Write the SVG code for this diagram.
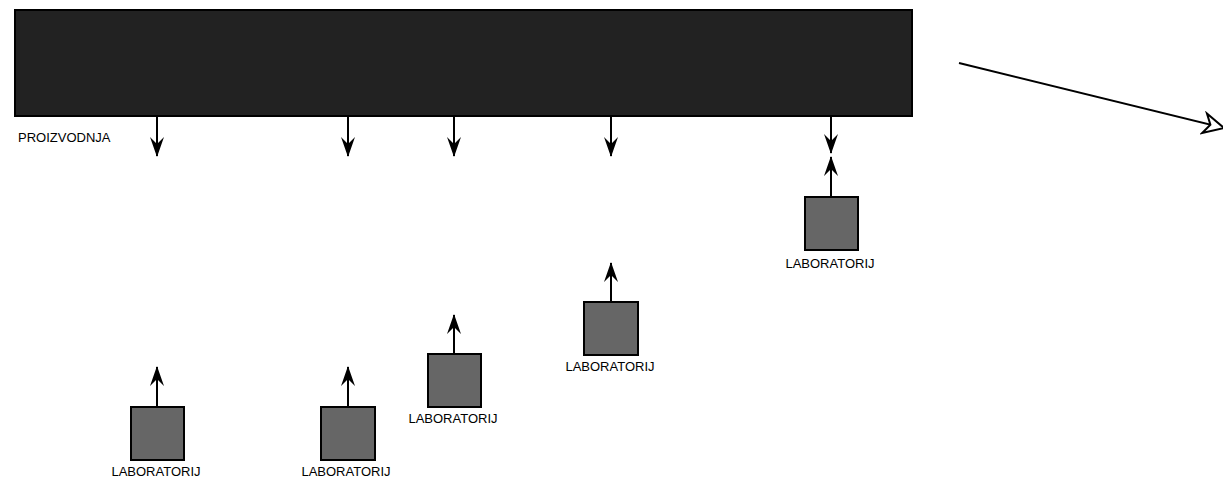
<svg xmlns="http://www.w3.org/2000/svg" width="1223" height="481" viewBox="0 0 1223 481">
<style>
.lab{fill:#666666;stroke:#000;stroke-width:2}
.t{font-family:"Liberation Sans",Arial,sans-serif;font-size:13px;fill:#000}
.c{stroke:#000;stroke-width:2;fill:none}
</style>
<defs>
<marker id="ah" viewBox="0 0 20 14" refX="19" refY="7" markerWidth="20" markerHeight="14" markerUnits="userSpaceOnUse" orient="auto">
<path d="M0,0 L20,7 L0,14 L7,7 Z" fill="#000"/>
</marker>
<marker id="oh" viewBox="0 0 24 24" refX="22" refY="12" markerWidth="24" markerHeight="24" markerUnits="userSpaceOnUse" orient="auto">
<path d="M2,2 L22,12 L2,22 L8,12 Z" fill="#fff" stroke="#000" stroke-width="2"/>
</marker>
</defs>
<g id="proizvodnja">
<rect x="15" y="10" width="897" height="106" fill="#222222" stroke="#000" stroke-width="2"/>
<text class="t" x="18" y="142">PROIZVODNJA</text>
</g>
<g id="lab1"><rect class="lab" x="131" y="407" width="53" height="53"/><text class="t" x="156" y="476" text-anchor="middle">LABORATORIJ</text></g>
<g id="lab2"><rect class="lab" x="321" y="407" width="54" height="53"/><text class="t" x="346" y="476" text-anchor="middle">LABORATORIJ</text></g>
<g id="lab3"><rect class="lab" x="428" y="354" width="53" height="53"/><text class="t" x="453" y="423" text-anchor="middle">LABORATORIJ</text></g>
<g id="lab4"><rect class="lab" x="584" y="302" width="54" height="53"/><text class="t" x="610" y="371" text-anchor="middle">LABORATORIJ</text></g>
<g id="lab5"><rect class="lab" x="805" y="197" width="53" height="53"/><text class="t" x="830" y="268" text-anchor="middle">LABORATORIJ</text></g>
<g id="connectors">
<line class="c" x1="157" y1="116" x2="157" y2="156" marker-end="url(#ah)"/>
<line class="c" x1="348" y1="116" x2="348" y2="156" marker-end="url(#ah)"/>
<line class="c" x1="454" y1="116" x2="454" y2="156" marker-end="url(#ah)"/>
<line class="c" x1="611" y1="116" x2="611" y2="156" marker-end="url(#ah)"/>
<line class="c" x1="831" y1="116" x2="831" y2="153" marker-end="url(#ah)"/>
<line class="c" x1="157" y1="407" x2="157" y2="367" marker-end="url(#ah)"/>
<line class="c" x1="348" y1="407" x2="348" y2="367" marker-end="url(#ah)"/>
<line class="c" x1="454" y1="354" x2="454" y2="315" marker-end="url(#ah)"/>
<line class="c" x1="611" y1="302" x2="611" y2="263" marker-end="url(#ah)"/>
<line class="c" x1="831" y1="197" x2="831" y2="157" marker-end="url(#ah)"/>
<line class="c" x1="959" y1="63" x2="1224" y2="128" marker-end="url(#oh)"/>
</g>
</svg>
